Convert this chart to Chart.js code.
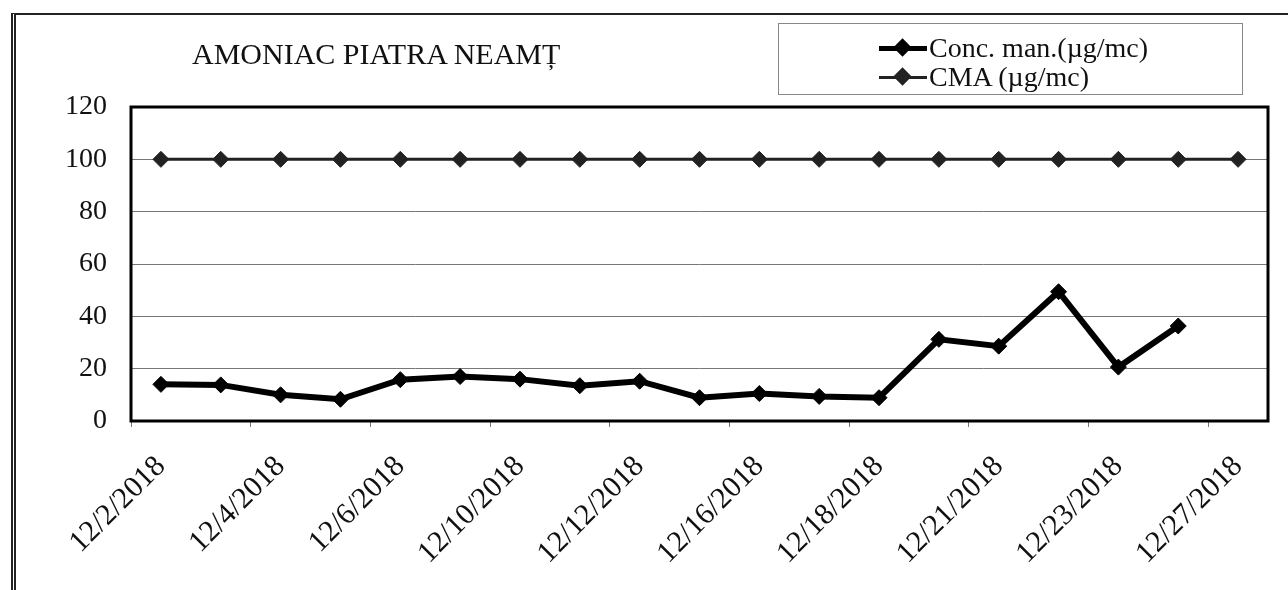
<!DOCTYPE html>
<html>
<head>
<meta charset="utf-8">
<title>Amoniac Piatra Neamț</title>
<script src="https://cdn.jsdelivr.net/npm/chart.js@4.4.1/dist/chart.umd.min.js"></script>
<style>
    html, body { margin: 0; padding: 0; background: #fff; }
    body { width: 1288px; height: 590px; position: relative; overflow: hidden; font-family: 'Liberation Serif', 'Times New Roman', serif; }
    #chart { position: absolute; left: 0; top: 0; }
    .frame { position: absolute; left: 11px; top: 13px; width: 1400px; height: 700px; border-left: 5px double #222; border-top: 2px solid #222; }
    .titre { position: absolute; left: 192px; top: 36px; font-size: 30px; line-height: 36px; color: #111; white-space: nowrap; }
    .legende { position: absolute; left: 778px; top: 23px; width: 463px; height: 70px; border: 1px solid #888; }
    .item { position: absolute; left: 100px; height: 28px; display: flex; align-items: center; font-size: 28px; color: #111; white-space: nowrap; }
    .sym { position: relative; width: 48px; height: 20px; margin-right: 2px; }
    .sym .trait { position: absolute; left: 0; right: 0; top: 50%; background: #000; }
    .sym .losange { position: absolute; left: 17px; top: 3px; width: 13px; height: 13px; background: #000; transform: rotate(45deg); }
</style>
</head>
<body>
<canvas id="chart" width="1288" height="590"></canvas>
<div class="frame"></div>
<div class="titre">AMONIAC PIATRA NEAMȚ</div>
<div class="legende">
    <div class="item" style="top: 10px;"><div class="sym"><div class="trait" style="height:5px;margin-top:-2px;"></div><div class="losange"></div></div>Conc. man.(µg/mc)</div>
    <div class="item" style="top: 39px;"><div class="sym"><div class="trait" style="height:3px;margin-top:-1px;background:#222;"></div><div class="losange" style="background:#222;"></div></div>CMA (µg/mc)</div>
</div>
<script>
// Données
const dates = ['12/2/2018', '12/3/2018', '12/4/2018', '12/5/2018', '12/6/2018', '12/7/2018',
    '12/10/2018', '12/11/2018', '12/12/2018', '12/13/2018', '12/16/2018', '12/17/2018',
    '12/18/2018', '12/19/2018', '12/21/2018', '12/22/2018', '12/23/2018', '12/24/2018', '12/27/2018'];
const concMan = [14, 13.8, 10, 8.3, 15.8, 17, 16, 13.5, 15.2, 8.9, 10.5, 9.4, 8.9, 31.2, 28.6, 49.4, 20.6, 36.3];
const cma = [100, 100, 100, 100, 100, 100, 100, 100, 100, 100, 100, 100, 100, 100, 100, 100, 100, 100, 100];
const yTicks = [0, 20, 40, 60, 80, 100, 120];

// Cadre noir autour de la zone de tracé
const plotFrame = {
    id: 'plotFrame',
    beforeDatasetsDraw(chart) {
        const { ctx, chartArea: a } = chart;
        ctx.save();
        ctx.lineWidth = 3;
        ctx.strokeStyle = '#000';
        ctx.strokeRect(a.left, a.top, a.right - a.left, a.bottom - a.top);
        ctx.restore();
    }
};

const serif = "'Liberation Serif', 'Times New Roman', serif";

new Chart(document.getElementById('chart'), {
    type: 'line',
    data: {
        labels: dates,
        datasets: [{
            label: 'Conc. man.(µg/mc)',
            data: concMan,
            borderColor: '#000',
            backgroundColor: '#000',
            borderWidth: 6,
            pointStyle: 'rectRot',
            pointRadius: 8,
            pointBorderWidth: 1,
            tension: 0,
            fill: false
        }, {
            label: 'CMA (µg/mc)',
            data: cma,
            borderColor: '#222',
            backgroundColor: '#222',
            borderWidth: 3,
            pointStyle: 'rectRot',
            pointRadius: 8,
            pointBorderWidth: 1,
            tension: 0,
            fill: false
        }]
    },
    options: {
        responsive: false,
        animation: false,
        devicePixelRatio: 1,
        layout: { padding: { top: 107, right: 20, left: 0, bottom: 0 } },
        plugins: {
            legend: { display: false },
            title: { display: false },
            tooltip: { enabled: false }
        },
        scales: {
            x: {
                offset: true,
                afterFit: s => { s.height = 169; },
                border: { display: false },
                grid: {
                    offset: true,
                    drawOnChartArea: false,
                    drawTicks: true,
                    tickLength: 6,
                    color: ctx => ctx.index % 2 === 0 ? '#777' : 'rgba(0,0,0,0)'
                },
                ticks: {
                    autoSkip: false,
                    minRotation: 45,
                    maxRotation: 45,
                    padding: 22,
                    color: '#111',
                    font: { family: serif, size: 30 },
                    callback: function (val, i) { return i % 2 === 0 ? this.getLabelForValue(val) : ''; }
                }
            },
            y: {
                min: yTicks[0],
                max: yTicks[yTicks.length - 1],
                afterFit: s => { s.width = 131; },
                border: { display: false },
                grid: { color: '#777', lineWidth: 1, drawTicks: false },
                ticks: {
                    stepSize: yTicks[1] - yTicks[0],
                    padding: 24,
                    color: '#111',
                    font: { family: serif, size: 28 }
                }
            }
        }
    },
    plugins: [plotFrame]
});
</script>
</body>
</html>
